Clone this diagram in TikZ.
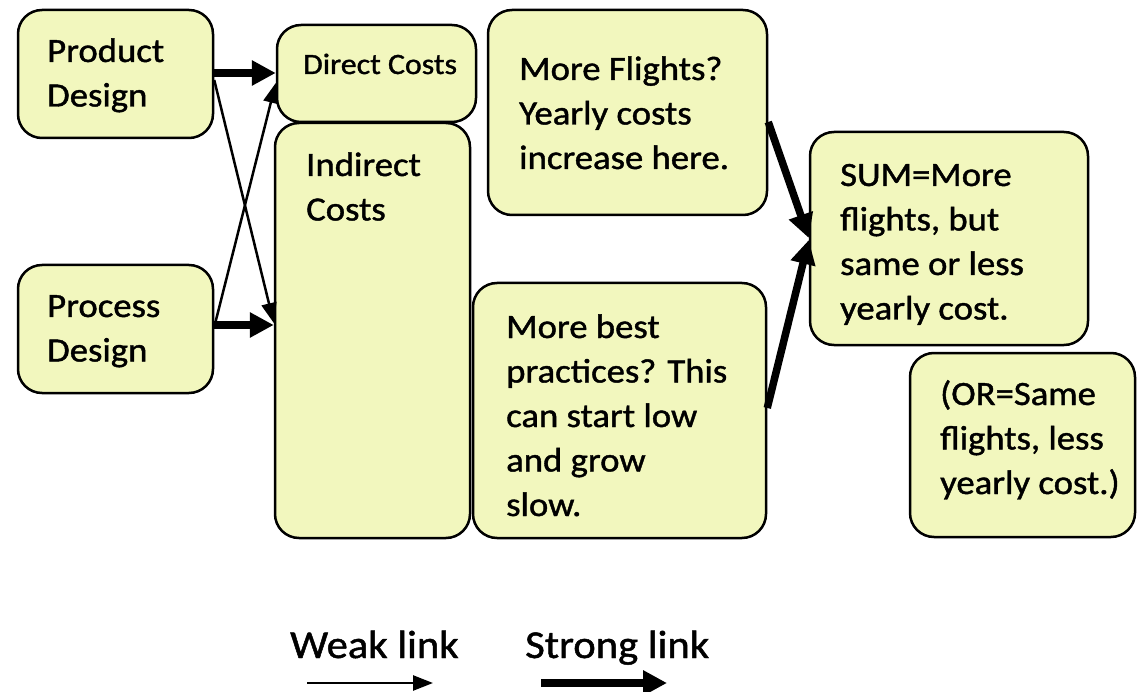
\documentclass[tikz,border=0pt]{standalone}
\usepackage{fontspec}
\setmainfont{Carlito}[FakeStretch=1.08, FakeBold=1.2]
\usetikzlibrary{arrows.meta}
\definecolor{boxfill}{RGB}{242,247,190}
\newcommand{\txt}[1]{\begin{tabular}[t]{@{}l@{}}#1\end{tabular}}
\tikzset{
  box/.style={draw=black, line width=2.5pt, fill=boxfill, rounded corners=24pt, inner sep=0pt},
  lbl/.style={anchor=base west, inner sep=0pt, font=\fontsize{34}{44.5}\selectfont},
  small/.style={anchor=base west, inner sep=0pt, font=\fontsize{29.5}{36}\selectfont},
  leg/.style={anchor=base west, inner sep=0pt, font=\fontsize{39.5}{44}\selectfont},
  strong/.style={line width=7.5pt, -{Triangle[length=24pt,width=24pt]}},
  weak/.style={line width=2.5pt, -{Triangle[length=20pt,width=15pt]}}
}
\begin{document}
\begin{tikzpicture}[x=1pt,y=-1pt]
\useasboundingbox (0,0) rectangle (1137,692);
% boxes
\node[box, minimum width=195pt, minimum height=128pt] (pd) at (115.5,74) {};
\node[box, minimum width=195pt, minimum height=128pt] (prd) at (115.5,329) {};
\node[box, minimum width=199pt, minimum height=97pt] (dc) at (376.5,73.5) {};
\node[box, minimum width=195pt, minimum height=415pt] (ic) at (372.5,330.5) {};
\node[box, minimum width=279pt, minimum height=205pt] (mf) at (627.5,112.5) {};
\node[box, minimum width=293pt, minimum height=255pt] (bp) at (619.5,410.5) {};
\node[box, minimum width=278pt, minimum height=213pt] (sum) at (949,238.5) {};
\node[box, minimum width=225pt, minimum height=184pt] (or) at (1022.5,445) {};
% texts
\node[lbl] (tpd) at (47,62) {\txt{Product\\Design}};
\node[lbl] (tprd) at (47,317) {\txt{Process\\Design}};
\node[small] (tdc) at (303,74) {Direct Costs};
\node[lbl] (tic) at (306,176) {\txt{Indirect\\Costs}};
\node[lbl] (tmf) at (519,80) {\txt{More Flights?\\Yearly costs\\increase here.}};
\node[lbl] (tbp) at (506,338) {\txt{More best\\practices? This\\can start low\\and grow\\slow.}};
\node[lbl] (tsum) at (840,186) {\txt{SUM=More\\flights, but\\same or less\\yearly cost.}};
\node[lbl] (tor) at (940,405) {\txt{(OR=Same\\flights, less\\yearly cost.)}};
% connectors
\draw[strong] (pd.east |- 0,73) -- (dc.west |- 0,73);
\draw[strong] (prd.east |- 0,325) -- (ic.west |- 0,325);
\draw[weak] (pd.east |- 0,80) -- (ic.west |- 0,323);
\draw[weak] (prd.east |- 0,327) -- (dc.west |- 0,83);
\draw[strong] (mf.east |- 0,122) -- (sum.west |- 0,238);
\draw[strong] (bp.east |- 0,408) -- (sum.west |- 0,240);
% legend
\node[leg] (weak) at (290,658) {Weak link};
\node[leg] (strg) at (525,658) {Strong link};
\coordinate (w1) at (307,683);
\coordinate (w2) at (433,683);
\coordinate (s1) at (541,683);
\coordinate (s2) at (667,683);
\draw[weak] (w1) -- (w2);
\draw[strong] (s1) -- (s2);
\end{tikzpicture}
\end{document}
